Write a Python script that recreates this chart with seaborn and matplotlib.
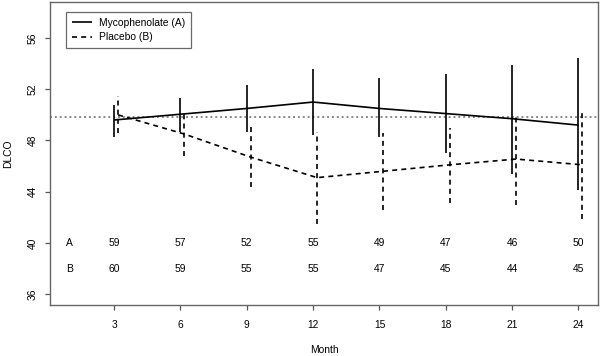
import numpy as np
import pandas as pd
import seaborn as sns
import matplotlib
matplotlib.use("Agg")
import matplotlib.pyplot as plt

# data
months = [3, 6, 9, 12, 15, 18, 21, 24]
myco_mean = [49.6, 50.05, 50.5, 51.0, 50.5, 50.1, 49.7, 49.2]
myco_lo = [48.3, 48.7, 48.7, 48.4, 48.3, 47.0, 45.4, 44.1]
myco_hi = [50.8, 51.3, 52.3, 53.6, 52.9, 53.2, 53.9, 54.4]
plac_mean = [50.0, 48.5, 46.7, 45.1, 45.6, 46.1, 46.55, 46.1]
plac_lo = [48.6, 46.8, 44.4, 41.5, 42.6, 43.1, 43.0, 41.9]
plac_hi = [51.5, 50.1, 49.1, 48.7, 48.6, 49.0, 50.1, 50.3]
n_a = [59, 57, 52, 55, 49, 47, 46, 50]
n_b = [60, 59, 55, 55, 47, 45, 44, 45]
baseline = 49.8

sns.set_style("white", {"text.color": "black", "axes.labelcolor": "black",
                        "xtick.color": "black", "ytick.color": "black"})
plt.rcParams['font.family'] = ['Liberation Sans', 'DejaVu Sans']
fs = 7.4

fig = plt.figure(figsize=(6, 3.56), dpi=100)
ax = fig.add_axes([0.0833, 0.143, 0.914, 0.851])

shift = 0.18  # placebo drawn a bit to the right
df = pd.DataFrame({
    "month": months + [m + shift for m in months],
    "dlco": myco_mean + plac_mean,
    "group": ["Mycophenolate (A)"] * 8 + ["Placebo (B)"] * 8,
})

ax.axhline(baseline, color="#888888", ls=(0, (1, 1.5)), lw=1.4, zorder=1)

sns.lineplot(data=df, x="month", y="dlco", hue="group", style="group",
             palette=["black", "black"], dashes=[(1, 0), (3, 2.5)],
             lw=1.2, ax=ax, legend=True)

ax.vlines(months, myco_lo, myco_hi, color="black", lw=1.2)
ax.vlines([m + shift for m in months], plac_lo, plac_hi, color="black",
          lw=1.2, linestyles=[(0, (3, 2.5))])

# numbers at risk
ax.text(1, 40, "A", ha="center", va="center", fontsize=fs)
ax.text(1, 38, "B", ha="center", va="center", fontsize=fs)
for m, a, b in zip(months, n_a, n_b):
    ax.text(m, 40, str(a), ha="center", va="center", fontsize=fs)
    ax.text(m, 38, str(b), ha="center", va="center", fontsize=fs)

ax.set_xlim(0.1, 24.9)
ax.set_ylim(35.15, 58.8)
ax.set_xticks(months)
ax.set_yticks([36, 40, 44, 48, 52, 56])
ax.set_yticklabels(["36", "40", "44", "48", "52", "56"], rotation=90, va="center")
ax.tick_params(axis="both", which="both", direction="out", length=3.6,
               width=0.9, color="#555555", labelsize=fs, labelcolor="black",
               left=True, bottom=True)
ax.tick_params(axis="x", pad=7)
ax.tick_params(axis="y", pad=5)
ax.set_xlabel("Month", fontsize=fs, color="black")
ax.set_ylabel("DLCO", fontsize=fs, color="black")
ax.xaxis.set_label_coords(0.5, -0.133)
ax.yaxis.set_label_coords(-0.067, 0.5)
for s in ax.spines.values():
    s.set_color("#666666")
    s.set_linewidth(1.0)

leg = ax.legend(loc="upper left", bbox_to_anchor=(0.029, 0.967),
                borderaxespad=0, fontsize=fs, frameon=True, fancybox=False,
                handlelength=2.0, handletextpad=0.7, borderpad=0.55,
                labelspacing=0.45, title=None)
leg.get_frame().set_edgecolor("#444444")
leg.get_frame().set_linewidth(0.9)
for t in leg.get_texts():
    t.set_color("black")

fig.savefig("out.png", dpi=100)
